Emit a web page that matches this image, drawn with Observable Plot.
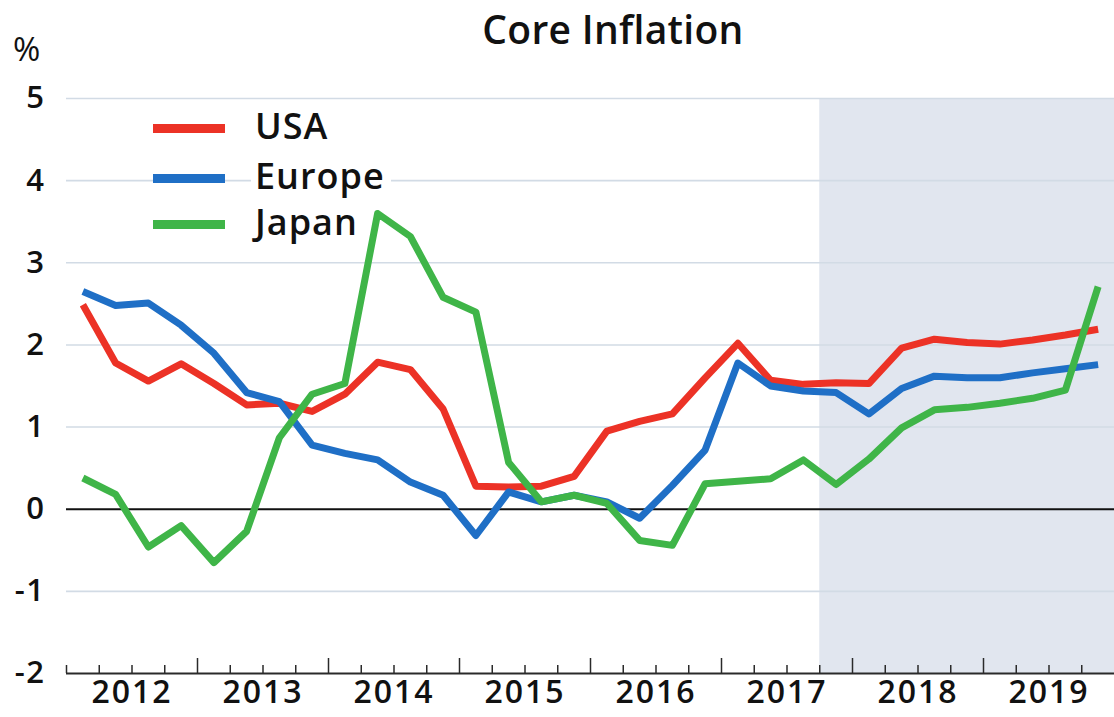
<!DOCTYPE html>
<html>
<head>
<meta charset="utf-8">
<script src="https://cdn.jsdelivr.net/npm/d3@7"></script>
<script src="https://cdn.jsdelivr.net/npm/@observablehq/plot@0.6"></script>
<style>
  html, body { margin: 0; padding: 0; background: #fff; }
  #wrap { position: relative; width: 1114px; height: 717px; font-family: "Open Sans", sans-serif; color: #111; font-weight: 600; }
  #title { position: absolute; left: 0; width: 1226px; top: 6px; text-align: center; font-size: 39px; line-height: 46px; letter-spacing: 0.3px; }
  #unit { position: absolute; left: 13px; top: 30px; font-size: 33px; line-height: 38px; font-weight: 500; }
  .leg { position: absolute; left: 153px; height: 0; }
  .leg .sw { position: absolute; left: 0; width: 72px; height: 9px; top: -4px; }
  .leg .lb { position: absolute; left: 98px; top: -23px; font-size: 36px; line-height: 42px; letter-spacing: 1px; background: #fff; padding: 0 6px 0 4px; white-space: nowrap; }
  svg { position: absolute; left: 0; top: 0; }
  svg g[aria-label="y-axis tick label"] text { letter-spacing: 1.5px; }
  svg g[aria-label="x-axis tick label"] text { letter-spacing: 2px; }
</style>
</head>
<body>
<div id="wrap">
  <div id="chart"></div>
  <div id="title">Core Inflation</div>
  <div id="unit">%</div>
  <div id="legend"></div>
</div>
<script>
// ---- data (quarterly) ----
const years = [2012, 2013, 2014, 2015, 2016, 2017, 2018, 2019];
const quarterNames = ["Q1", "Q2", "Q3", "Q4"];
const quarters = years.flatMap(y => quarterNames.map(q => `${y}${q}`));

const usa = [2.49, 1.78, 1.56, 1.77, 1.53, 1.27, 1.29, 1.19,
             1.40, 1.79, 1.70, 1.22, 0.28, 0.27, 0.28, 0.40,
             0.95, 1.07, 1.16, 1.60, 2.02, 1.57, 1.52, 1.54,
             1.53, 1.96, 2.07, 2.03, 2.01, 2.06, 2.12, 2.19];
const europe = [2.65, 2.48, 2.51, 2.24, 1.90, 1.42, 1.31, 0.78,
                0.68, 0.60, 0.33, 0.17, -0.32, 0.21, 0.09, 0.17,
                0.09, -0.11, 0.29, 0.72, 1.78, 1.50, 1.44, 1.42,
                1.16, 1.47, 1.62, 1.60, 1.60, 1.66, 1.71, 1.76];
const japan = [0.38, 0.18, -0.46, -0.20, -0.65, -0.27, 0.87, 1.40,
               1.53, 3.60, 3.32, 2.58, 2.40, 0.57, 0.09, 0.17,
               0.07, -0.38, -0.44, 0.31, 0.34, 0.37, 0.60, 0.30,
               0.61, 0.99, 1.21, 1.24, 1.29, 1.35, 1.45, 2.71];

const seriesNames = ["USA", "Europe", "Japan"];
const seriesColors = ["#ec3226", "#1f6fc6", "#3fb548"];
const yTicks = [-2, -1, 0, 1, 2, 3, 4, 5];
const forecastFrom = "2017Q4";

// ---- derived tables ----
const values = [usa, europe, japan];
const rows = seriesNames.flatMap((name, s) =>
  values[s].map((v, i) => ({series: name, q: quarters[i], pos: i + 0.5, value: v})));
const nQ = quarters.length;
const boundaries = d3.range(0, nQ + 1);
const majorBoundaries = boundaries.filter(b => b % 4 === 0 && b > 0 && b < nQ);
const minorBoundaries = boundaries.filter(b => b % 4 !== 0 || b === 0);
const yearCenters = years.map((y, k) => k * 4 + 2);
const shade = [{x1: quarters.indexOf(forecastFrom), x2: nQ}];

const W = 1114, H = 717, mT = 98, mB = 44, mL = 66, mR = 0;
const frameH = H - mT - mB;

const chart = Plot.plot({
  width: W, height: H,
  marginLeft: mL, marginRight: mR, marginTop: mT, marginBottom: mB,
  style: {fontFamily: "'Open Sans', sans-serif", fontWeight: 600, color: "#111", background: "transparent", overflow: "visible"},
  x: {domain: [0, nQ], axis: null},
  y: {domain: [yTicks[0], yTicks[yTicks.length - 1]], axis: null},
  color: {domain: seriesNames, range: seriesColors},
  marks: [
    Plot.rect(shade, {x1: "x1", x2: "x2", y1: yTicks[0], y2: yTicks[yTicks.length - 1], fill: "#e1e6ef"}),
    Plot.ruleY(yTicks.filter(t => t !== 0 && t !== yTicks[0]), {stroke: "#d2dbe5", strokeWidth: 1.6}),
    Plot.ruleY([0], {stroke: "#111", strokeWidth: 2}),
    Plot.ruleY([yTicks[0]], {stroke: "#2a2a2a", strokeWidth: 2}),
    Plot.tickX(minorBoundaries, {x: d => d, insetTop: frameH - 8, stroke: "#2a2a2a", strokeWidth: 1.5}),
    Plot.tickX(majorBoundaries, {x: d => d, insetTop: frameH - 15, stroke: "#2a2a2a", strokeWidth: 1.5}),
    Plot.axisY({ticks: yTicks, label: null, tickSize: 0, tickPadding: 21, fontSize: 31, tickFormat: d => String(d)}),
    Plot.axisX({ticks: yearCenters, label: null, tickSize: 0, tickPadding: 7, fontSize: 32, tickFormat: c => String(years[(c - 2) / 4])}),
    Plot.line(rows, {x: "pos", y: "value", z: "series", stroke: "series", strokeWidth: 7, strokeLinejoin: "round", strokeLinecap: "butt"})
  ]
});
document.getElementById("chart").appendChild(chart);

// ---- legend (inside the plot area, as in the reference) ----
const legend = document.getElementById("legend");
const legendTops = [128, 178, 224];
seriesNames.forEach((name, s) => {
  const item = document.createElement("div");
  item.className = "leg";
  item.style.top = legendTops[s] + "px";
  item.innerHTML = `<div class="sw" style="background:${seriesColors[s]}"></div><div class="lb">${name}</div>`;
  legend.appendChild(item);
});
</script>
</body>
</html>
